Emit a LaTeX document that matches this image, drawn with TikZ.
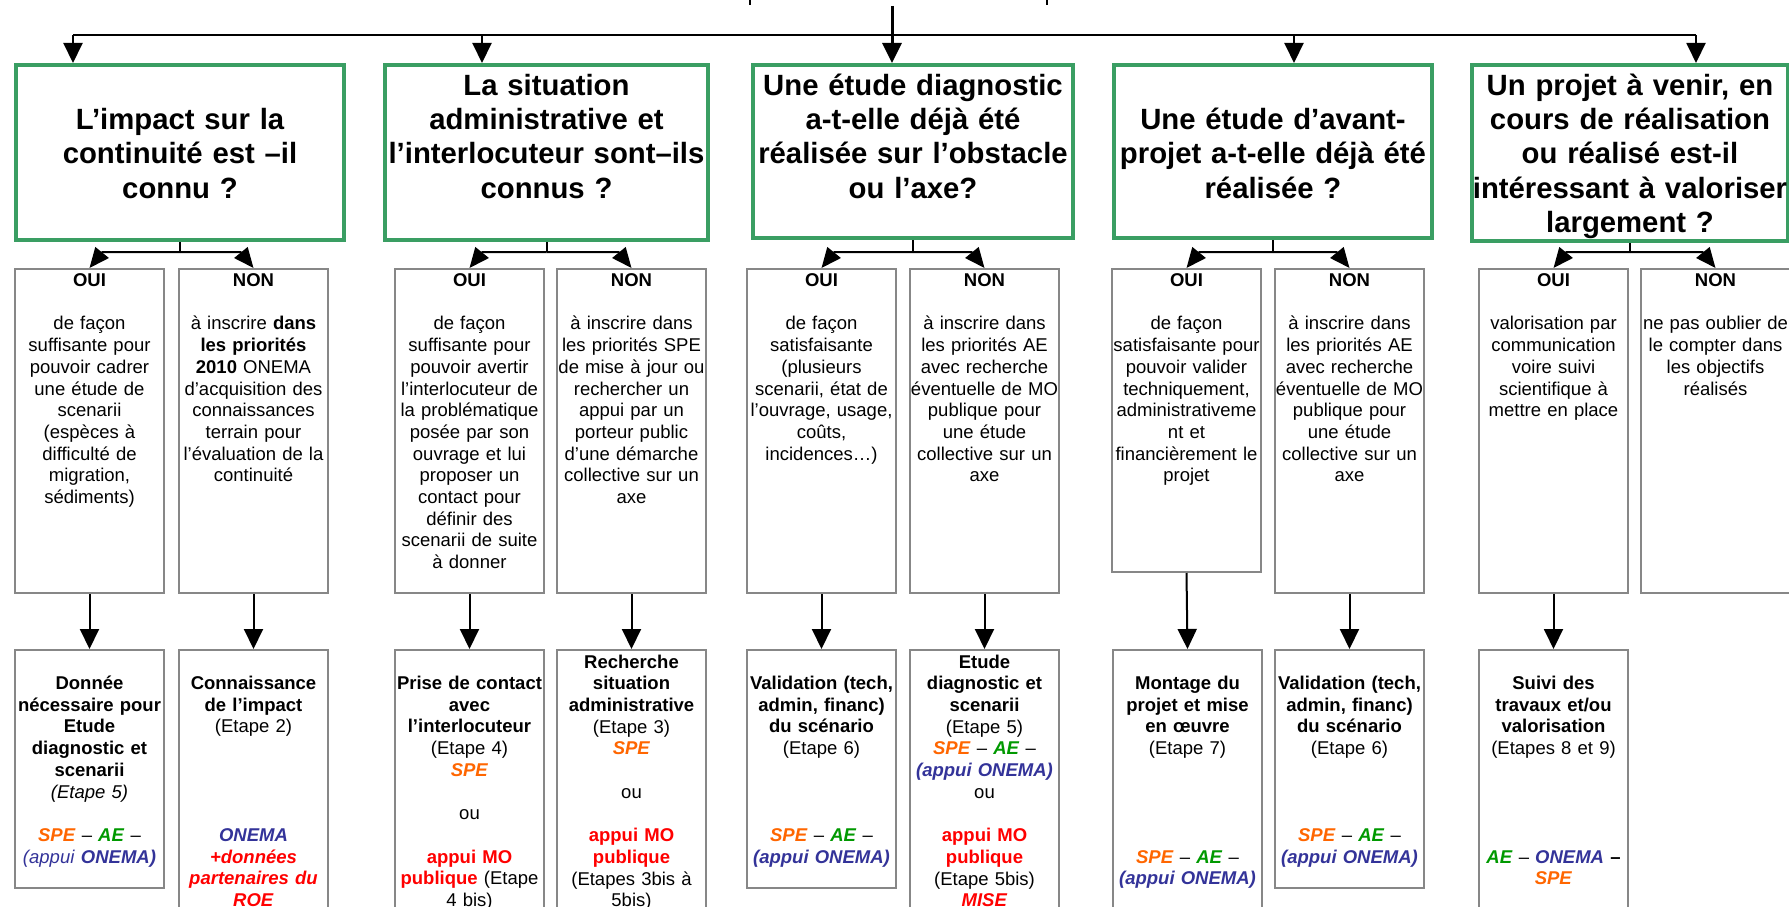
\documentclass[tikz,border=0pt]{standalone}
\usepackage{fontspec}
\setmainfont{Liberation Sans}
\usetikzlibrary{arrows.meta,calc}
\definecolor{boxgreen}{RGB}{58,158,99}
\definecolor{boxgray}{RGB}{135,135,135}
\definecolor{speorange}{RGB}{255,102,0}
\definecolor{aegreen}{RGB}{0,153,0}
\definecolor{onemablue}{RGB}{51,51,153}
\definecolor{mored}{RGB}{255,0,0}
\newcommand\cSPE{\textcolor{speorange}{\textbf{\textit{SPE}}}}
\newcommand\cAE{\textcolor{aegreen}{\textbf{\textit{AE}}}}
\newcommand\cON[1]{\textcolor{onemablue}{\textbf{\textit{#1}}}}
\newcommand\cRed[1]{\textcolor{mored}{\textbf{#1}}}
\newcommand\cRedI[1]{\textcolor{mored}{\textbf{\textit{#1}}}}
\begin{document}
\begin{tikzpicture}[x=1pt,y=-1pt,
 gbox/.style={draw=boxgreen,line width=4pt,inner sep=0pt,anchor=north west},
 sbox/.style={draw=boxgray,line width=2pt,inner sep=0pt,anchor=north west,minimum width=149pt},
 ttxt/.style={anchor=base,align=center,text width=400pt,inner sep=0pt,font=\fontsize{29.3}{34.3}\selectfont\bfseries},
 stxt/.style={anchor=base,align=center,text width=220pt,inner sep=0pt,font=\fontsize{18.5}{21.7}\selectfont},
 conn/.style={line width=2pt},
 arr/.style={line width=2pt,-{Triangle[length=20pt,width=19pt]}},
 sarr/.style={line width=2pt,-{Triangle[length=20pt,width=17pt]}}]
\useasboundingbox (0,0) rectangle (1789,907);
\fill[white] (0,0) rectangle (1789,907);

% top boxes
\node[gbox,minimum width=328pt,minimum height=175pt] (t1) at (14,63) {};
\node[gbox,minimum width=323pt,minimum height=175pt] (t2) at (383,63) {};
\node[gbox,minimum width=320pt,minimum height=173pt] (t3) at (751,63) {};
\node[gbox,minimum width=318pt,minimum height=173pt] (t4) at (1112,63) {};
\node[gbox,minimum width=316pt,minimum height=176pt] (t5) at (1470,63) {};

\node[ttxt] (t1x) at ([yshift=-66.6pt]t1.north) {L’impact sur la\\ continuité est –il\\ connu ?};
\node[ttxt] (t2x) at ([yshift=-32.3pt]t2.north) {La situation\\ administrative et\\ l’interlocuteur sont–ils\\ connus ?};
\node[ttxt] (t3x) at ([yshift=-32.3pt]t3.north) {Une étude diagnostic\\ a-t-elle déjà été\\ réalisée sur l’obstacle\\ ou l’axe?};
\node[ttxt] (t4x) at ([yshift=-66.6pt]t4.north) {Une étude d’avant-\\ projet a-t-elle déjà été\\ réalisée ?};
\node[ttxt] (t5x) at ([yshift=-32.3pt]t5.north) {Un projet à venir, en\\ cours de réalisation\\ ou réalisé est-il\\ intéressant à valoriser\\ largement ?};

% middle boxes
\node[sbox,minimum height=324pt] (m1o) at (14,268) {};
\node[sbox,minimum height=324pt] (m1n) at (178,268) {};
\node[sbox,minimum height=324pt] (m2o) at (394,268) {};
\node[sbox,minimum height=324pt] (m2n) at (556,268) {};
\node[sbox,minimum height=324pt] (m3o) at (746,268) {};
\node[sbox,minimum height=324pt] (m3n) at (909,268) {};
\node[sbox,minimum height=303pt] (m4o) at (1111,268) {};
\node[sbox,minimum height=324pt] (m4n) at (1274,268) {};
\node[sbox,minimum height=324pt] (m5o) at (1478,268) {};
\node[sbox,minimum height=324pt] (m5n) at (1640,268) {};

\node[stxt] (m1ox) at ([yshift=-18.5pt]m1o.north) {\textbf{OUI}\\ \mbox{}\\ de façon\\ suffisante pour\\ pouvoir cadrer\\ une étude de\\ scenarii\\ (espèces à\\ difficulté de\\ migration,\\ sédiments)};
\node[stxt] (m1nx) at ([yshift=-18.5pt]m1n.north) {\textbf{NON}\\ \mbox{}\\ à inscrire \textbf{dans}\\ \textbf{les priorités}\\ \textbf{2010} ONEMA\\ d’acquisition des\\ connaissances\\ terrain pour\\ l’évaluation de la\\ continuité};
\node[stxt] (m2ox) at ([yshift=-18.5pt]m2o.north) {\textbf{OUI}\\ \mbox{}\\ de façon\\ suffisante pour\\ pouvoir avertir\\ l’interlocuteur de\\ la problématique\\ posée par son\\ ouvrage et lui\\ proposer un\\ contact pour\\ définir des\\ scenarii de suite\\ à donner};
\node[stxt] (m2nx) at ([yshift=-18.5pt]m2n.north) {\textbf{NON}\\ \mbox{}\\ à inscrire dans\\ les priorités SPE\\ de mise à jour ou\\ rechercher un\\ appui par un\\ porteur public\\ d’une démarche\\ collective sur un\\ axe};
\node[stxt] (m3ox) at ([yshift=-18.5pt]m3o.north) {\textbf{OUI}\\ \mbox{}\\ de façon\\ satisfaisante\\ (plusieurs\\ scenarii, état de\\ l’ouvrage, usage,\\ coûts,\\ incidences…)};
\node[stxt] (m3nx) at ([yshift=-18.5pt]m3n.north) {\textbf{NON}\\ \mbox{}\\ à inscrire dans\\ les priorités AE\\ avec recherche\\ éventuelle de MO\\ publique pour\\ une étude\\ collective sur un\\ axe};
\node[stxt] (m4ox) at ([yshift=-18.5pt]m4o.north) {\textbf{OUI}\\ \mbox{}\\ de façon\\ satisfaisante pour\\ pouvoir valider\\ techniquement,\\ administrativeme\\ nt et\\ financièrement le\\ projet};
\node[stxt] (m4nx) at ([yshift=-18.5pt]m4n.north) {\textbf{NON}\\ \mbox{}\\ à inscrire dans\\ les priorités AE\\ avec recherche\\ éventuelle de MO\\ publique pour\\ une étude\\ collective sur un\\ axe};
\node[stxt] (m5ox) at ([yshift=-18.5pt]m5o.north) {\textbf{OUI}\\ \mbox{}\\ valorisation par\\ communication\\ voire suivi\\ scientifique à\\ mettre en place};
\node[stxt] (m5nx) at ([yshift=-18.5pt]m5n.north) {\textbf{NON}\\ \mbox{}\\ ne pas oublier de\\ le compter dans\\ les objectifs\\ réalisés};

% bottom boxes
\node[sbox,minimum height=238pt] (b1o) at (14,649) {};
\node[sbox,minimum height=320pt] (b1n) at (178,649) {};
\node[sbox,minimum height=320pt] (b2o) at (394,649) {};
\node[sbox,minimum height=320pt] (b2n) at (556,649) {};
\node[sbox,minimum height=238pt] (b3o) at (746,649) {};
\node[sbox,minimum height=320pt] (b3n) at (909,649) {};
\node[sbox,minimum height=320pt] (b4o) at (1112,649) {};
\node[sbox,minimum height=238pt] (b4n) at (1274,649) {};
\node[sbox,minimum height=320pt] (b5o) at (1478,649) {};

\node[stxt] (b1ox) at ([yshift=-40.5pt]b1o.north) {\textbf{Donnée}\\ \textbf{nécessaire pour}\\ \textbf{Etude}\\ \textbf{diagnostic et}\\ \textbf{scenarii}\\ \textit{(Etape 5)}\\ \mbox{}\\ \cSPE{} – \cAE{} –\\ \textcolor{onemablue}{\textit{(appui}} \cON{ONEMA)}};
\node[stxt] (b1nx) at ([yshift=-40.5pt]b1n.north) {\textbf{Connaissance}\\ \textbf{de l’impact}\\ (Etape 2)\\ \mbox{}\\ \mbox{}\\ \mbox{}\\ \mbox{}\\ \cON{ONEMA}\\ \cRedI{+données}\\ \cRedI{partenaires du}\\ \cRedI{ROE}};
\node[stxt] (b2ox) at ([yshift=-40.5pt]b2o.north) {\textbf{Prise de contact}\\ \textbf{avec}\\ \textbf{l’interlocuteur}\\ (Etape 4)\\ \cSPE\\ \mbox{}\\ ou\\ \mbox{}\\ \cRed{appui MO}\\ \cRed{publique} (Etape\\ 4 bis)};
\node[stxt] (b2nx) at ([yshift=-19pt]b2n.north) {\textbf{Recherche}\\ \textbf{situation}\\ \textbf{administrative}\\ (Etape 3)\\ \cSPE\\ \mbox{}\\ ou\\ \mbox{}\\ \cRed{appui MO}\\ \cRed{publique}\\ (Etapes 3bis à\\ 5bis)};
\node[stxt] (b3ox) at ([yshift=-40.5pt]b3o.north) {\textbf{Validation (tech,}\\ \textbf{admin, financ)}\\ \textbf{du scénario}\\ (Etape 6)\\ \mbox{}\\ \mbox{}\\ \mbox{}\\ \cSPE{} – \cAE{} –\\ \cON{(appui ONEMA)}};
\node[stxt] (b3nx) at ([yshift=-19pt]b3n.north) {\textbf{Etude}\\ \textbf{diagnostic et}\\ \textbf{scenarii}\\ (Etape 5)\\ \cSPE{} – \cAE{} –\\ \cON{(appui ONEMA)}\\ ou\\ \mbox{}\\ \cRed{appui MO}\\ \cRed{publique}\\ (Etape 5bis)\\ \cRedI{MISE}};
\node[stxt] (b4ox) at ([yshift=-40.5pt]b4o.north) {\textbf{Montage du}\\ \textbf{projet et mise}\\ \textbf{en œuvre}\\ (Etape 7)\\ \mbox{}\\ \mbox{}\\ \mbox{}\\ \mbox{}\\ \cSPE{} – \cAE{} –\\ \cON{(appui ONEMA)}};
\node[stxt] (b4nx) at ([yshift=-40.5pt]b4n.north) {\textbf{Validation (tech,}\\ \textbf{admin, financ)}\\ \textbf{du scénario}\\ (Etape 6)\\ \mbox{}\\ \mbox{}\\ \mbox{}\\ \cSPE{} – \cAE{} –\\ \cON{(appui ONEMA)}};
\node[stxt] (b5ox) at ([yshift=-40.5pt]b5o.north) {\textbf{Suivi des}\\ \textbf{travaux et/ou}\\ \textbf{valorisation}\\ (Etapes 8 et 9)\\ \mbox{}\\ \mbox{}\\ \mbox{}\\ \mbox{}\\ \cAE{} – \cON{ONEMA} \textbf{–}\\ \cSPE};

% top connectors
\coordinate (src) at (892,6);
\coordinate (h1) at (73,35);
\coordinate (h2) at (482,35);
\coordinate (h3) at (892,35);
\coordinate (h4) at (1294,35);
\coordinate (h5) at (1696,35);
\draw[conn] (h1) -- (h5);
\draw[arr,line width=3pt] (src) -- (src |- t3.north);
\draw[arr] (h1) -- (h1 |- t1.north);
\draw[arr] (h2) -- (h2 |- t2.north);
\draw[arr] (h4) -- (h4 |- t4.north);
\draw[arr] (h5) -- (h5 |- t5.north);
\draw[line width=2pt] (750,0) -- (750,5);
\draw[line width=2pt] (1047,0) -- (1047,5);

% branch connectors
\coordinate (jy) at (0,252);
\foreach \t/\o/\n in {t1/m1o/m1n,t2/m2o/m2n,t3/m3o/m3n,t4/m4o/m4n,t5/m5o/m5n}{
  \coordinate (j\t) at (\t.south |- jy);
  \draw[conn] (\t.south) -- (j\t);
  \draw[sarr] (j\t) -- ($(\o.north)+(13,-16)$) -- (\o.north);
  \draw[sarr] (j\t) -- ($(\n.north)+(-13,-16)$) -- (\n.north);
}

% down arrows
\foreach \m/\b in {m1o/b1o,m1n/b1n,m2o/b2o,m2n/b2n,m3o/b3o,m3n/b3n,m4o/b4o,m4n/b4n,m5o/b5o}{
  \draw[arr] (\m.south) -- (\b.north);
}
\end{tikzpicture}
\end{document}
